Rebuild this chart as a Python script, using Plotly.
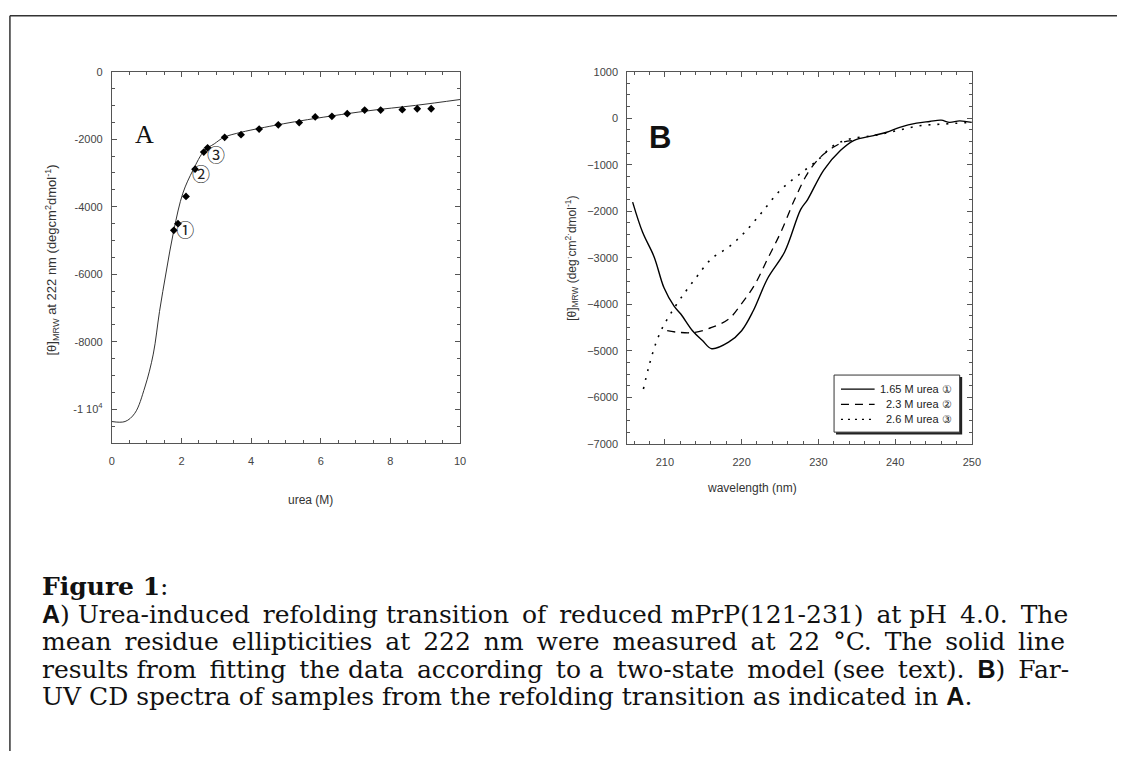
import plotly.graph_objects as go

# ---- Panel A: urea-induced refolding transition ----
fit_urea = [0.0, 0.38, 0.66, 0.95, 1.19, 1.37, 1.56, 1.78, 2.04, 2.33, 2.66, 2.94,
            3.22, 3.70, 4.27, 5.40, 7.30, 8.72, 10.0]
fit_theta = [-10365, -10365, -10120, -9343, -8368, -7100, -5936, -4700, -3600, -2920,
             -2336, -2140, -1945, -1800, -1673, -1460, -1168, -1000, -826]

meas_urea = [1.78, 1.90, 2.13, 2.39, 2.64, 2.75, 3.24, 3.71, 4.23, 4.78, 5.38, 5.84,
             6.32, 6.76, 7.26, 7.72, 8.34, 8.77, 9.17]
meas_theta = [-4700, -4505, -3697, -2890, -2383, -2257, -1945, -1868, -1702, -1577,
              -1508, -1343, -1323, -1245, -1139, -1139, -1128, -1099, -1099]

sample_marks = ["①", "②", "③"]
sample_mark_x = [2.11, 2.56, 2.99]
sample_mark_y = [-4770, -3095, -2530]

# ---- Panel B: far-UV CD spectra ----
wl_165 = [205.8, 207.1, 208.6, 209.9, 211.2, 212.1, 213.6, 214.9, 216.1, 218.3, 220.0,
          221.5, 223.4, 225.6, 227.7, 228.6, 230.7, 232.9, 234.6, 237.2, 238.9, 240.6,
          242.8, 244.5, 246.0, 247.1, 248.4, 250.0]
cd_165 = [-1803, -2453, -2981, -3651, -4040, -4214, -4567, -4778, -4954, -4814, -4567,
          -4144, -3440, -2875, -1960, -1748, -1114, -691, -480, -374, -302, -197,
          -106, -70, -42, -91, -57, -91]

wl_23 = [210.3, 211.8, 213.9, 216.1, 218.3, 220.0, 221.7, 223.4, 225.1, 226.9, 228.6,
         230.3, 232.0, 233.3, 234.6]
cd_23 = [-4567, -4602, -4602, -4497, -4320, -3985, -3580, -3017, -2452, -1748, -1184,
         -831, -620, -514, -480]

wl_26 = [207.2, 207.9, 208.8, 209.7, 210.7, 212.1, 214.0, 216.1, 218.3, 220.4, 222.6,
         225.1, 227.7, 229.9, 232.0, 234.2, 237.2, 240.2, 243.2, 246.2, 250.0]
cd_26 = [-5820, -5343, -4848, -4497, -4214, -3862, -3440, -3017, -2770, -2452, -2030,
         -1537, -1184, -903, -586, -444, -374, -268, -163, -127, -91]

legend_labels = ["1.65 M urea ①", "2.3 M urea ②", "2.6 M urea ③"]

a_yticks = [0, -2000, -4000, -6000, -8000, -10000]
a_yticktext = ["0", "-2000", "-4000", "-6000", "-8000", "-1 10<sup>4</sup>"]
a_xticks = [0, 2, 4, 6, 8, 10]
b_xticks = [210, 220, 230, 240, 250]
b_yticks = [1000, 0, -1000, -2000, -3000, -4000, -5000, -6000, -7000]

W, H = 1126, 757
SANS = "Liberation Sans"
SERIF = "DejaVu Serif"
AXC = "#555555"
TXC = "#333333"


def px(x):
    return x / W


def py(y):
    return 1 - y / H


fig = go.Figure()

fig.add_trace(go.Scatter(x=fit_urea, y=fit_theta, mode="lines", line_shape="spline",
                         line=dict(color="#333333", width=1), xaxis="x", yaxis="y"))
fig.add_trace(go.Scatter(x=meas_urea, y=meas_theta, mode="markers",
                         marker=dict(symbol="diamond", size=6, color="black"),
                         xaxis="x", yaxis="y"))
fig.add_trace(go.Scatter(x=sample_mark_x, y=sample_mark_y, mode="text", text=sample_marks,
                         textfont=dict(family="Noto Sans CJK JP", size=18, color="#222"),
                         xaxis="x", yaxis="y"))

fig.add_trace(go.Scatter(x=wl_165, y=cd_165, mode="lines", line_shape="spline",
                         line=dict(color="black", width=1.4), xaxis="x2", yaxis="y2"))
fig.add_trace(go.Scatter(x=wl_23, y=cd_23, mode="lines", line_shape="spline",
                         line=dict(color="black", width=1.3, dash="8px,6px"),
                         xaxis="x2", yaxis="y2"))
fig.add_trace(go.Scatter(x=wl_26, y=cd_26, mode="lines", line_shape="spline",
                         line=dict(color="black", width=1.6, dash="2px,7px"),
                         xaxis="x2", yaxis="y2"))

axis_common = dict(showline=True, linecolor=AXC, linewidth=1, mirror="ticks",
                   ticks="inside", ticklen=5, tickcolor=AXC, showgrid=False,
                   zeroline=False, tickfont=dict(family=SANS, size=11, color="#444"))

fig.update_layout(
    width=W, height=H, margin=dict(l=0, r=0, t=0, b=0),
    paper_bgcolor="white", plot_bgcolor="white", showlegend=False,
    xaxis=dict(domain=[px(110), px(462)], range=[0, 10], tickvals=a_xticks,
               anchor="y", ticklabelstandoff=8,
               minor=dict(dtick=0.5, ticks="inside", ticklen=3, tickcolor=AXC),
               **axis_common),
    yaxis=dict(domain=[py(444), py(66.7)], range=[-11000, 0], tickvals=a_yticks,
               ticktext=a_yticktext, anchor="x", ticklabelstandoff=6,
               minor=dict(dtick=500, ticks="inside", ticklen=3, tickcolor=AXC),
               **axis_common),
    xaxis2=dict(domain=[px(631), px(979.3)], range=[205.1, 250], tickvals=b_xticks,
                anchor="y2", ticklabelstandoff=8,
                minor=dict(dtick=2, ticks="inside", ticklen=3, tickcolor=AXC),
                **axis_common),
    yaxis2=dict(domain=[py(445), py(66.7)], range=[-7000, 1000], tickvals=b_yticks,
                anchor="x2", ticklabelstandoff=6,
                minor=dict(dtick=250, ticks="inside", ticklen=3, tickcolor=AXC),
                **axis_common),
)

ann = []
# axis titles
ann.append(dict(x=px(286), y=py(502), xref="paper", yref="paper", showarrow=False,
                text="urea (M)", font=dict(family=SANS, size=12, color=TXC)))
ann.append(dict(x=px(805), y=py(490), xref="paper", yref="paper", showarrow=False,
                text="wavelength (nm)", font=dict(family=SANS, size=12, color=TXC)))
ann.append(dict(x=px(38), y=py(258), xref="paper", yref="paper", showarrow=False,
                textangle=-90,
                text="[θ]<sub>MRW</sub> at 222 nm (degcm<sup>2</sup>dmol<sup>-1</sup>)",
                font=dict(family=SANS, size=13, color=TXC)))
ann.append(dict(x=px(575), y=py(256), xref="paper", yref="paper", showarrow=False,
                textangle=-90,
                text="[θ]<sub>MRW</sub> (deg<sup>·</sup>cm<sup>2</sup><sup>·</sup>dmol<sup>-1</sup>)",
                font=dict(family=SANS, size=12, color=TXC)))
# panel letters
ann.append(dict(x=0.95, y=-1850, xref="x", yref="y", showarrow=False, text="A",
                font=dict(family="Liberation Serif", size=26, color="#111")))
ann.append(dict(x=209.3, y=-420, xref="x2", yref="y2", showarrow=False, text="<b>B</b>",
                font=dict(family=SANS, size=31, color="#111")))

# legend for panel B
legend_rows = [389.3, 404.7, 420.0]
legend_dash = ["solid", "8px,6px", "2px,5px"]
shapes = []
shapes.append(dict(type="rect", xref="paper", yref="paper", x0=px(842), x1=px(969.5),
                   y0=py(435.5), y1=py(377), fillcolor="#222", line=dict(width=0),
                   layer="above"))
shapes.append(dict(type="rect", xref="paper", yref="paper", x0=px(840), x1=px(967),
                   y0=py(433), y1=py(375), fillcolor="white",
                   line=dict(color="#333", width=1), layer="above"))
for row, dash, label in zip(legend_rows, legend_dash, legend_labels):
    shapes.append(dict(type="line", xref="paper", yref="paper", x0=px(847), x1=px(881),
                       y0=py(row), y1=py(row), layer="above",
                       line=dict(color="black", width=1.2, dash=dash)))
    ann.append(dict(x=px(961), y=py(row), xref="paper", yref="paper", showarrow=False,
                    xanchor="right", text=label,
                    font=dict(family=SANS, size=11, color="#222")))

# page frame
shapes.append(dict(type="line", xref="paper", yref="paper", x0=px(7), x1=1,
                   y0=py(10), y1=py(10), line=dict(color="#333", width=1.5)))
shapes.append(dict(type="line", xref="paper", yref="paper", x0=px(7), x1=px(7),
                   y0=py(10), y1=0, line=dict(color="#333", width=1.5)))


# caption (justified body lines: extra thin spaces spread over the word gaps)
def spread(line, extra):
    words = line.split(" ")
    gaps = len(words) - 1
    out = words[0]
    for i, w in enumerate(words[1:]):
        n = (extra * (i + 1)) // gaps - (extra * i) // gaps
        out += " " + "\u2009" * n + w
    return out


BA = '<span style="font-family:Liberation Sans"><b>A</b></span>'
BB = '<span style="font-family:Liberation Sans"><b>B</b></span>'
caption = [
    ("<b>Figure 1</b>:", 0),
    ("{A}) Urea-induced refolding transition of reduced mPrP(121-231) at pH 4.0. The", 6),
    ("mean residue ellipticities at 222 nm were measured at 22 °C. The solid line", 13),
    ("results from fitting the data according to a two-state model (see text). {B}) Far-", 9),
    ("UV CD spectra of samples from the refolding transition as indicated in {A}.", 0),
]
cap_y = [590, 618, 646, 674, 702]
for (line, extra), yy in zip(caption, cap_y):
    text = spread(line, extra).replace("{A}", BA).replace("{B}", BB)
    ann.append(dict(x=px(37), y=py(yy), xref="paper", yref="paper", showarrow=False,
                    xanchor="left", yanchor="middle", text=text,
                    font=dict(family=SERIF, size=25, color="#111")))

fig.update_layout(annotations=ann, shapes=shapes)
fig.write_html("out.html")
